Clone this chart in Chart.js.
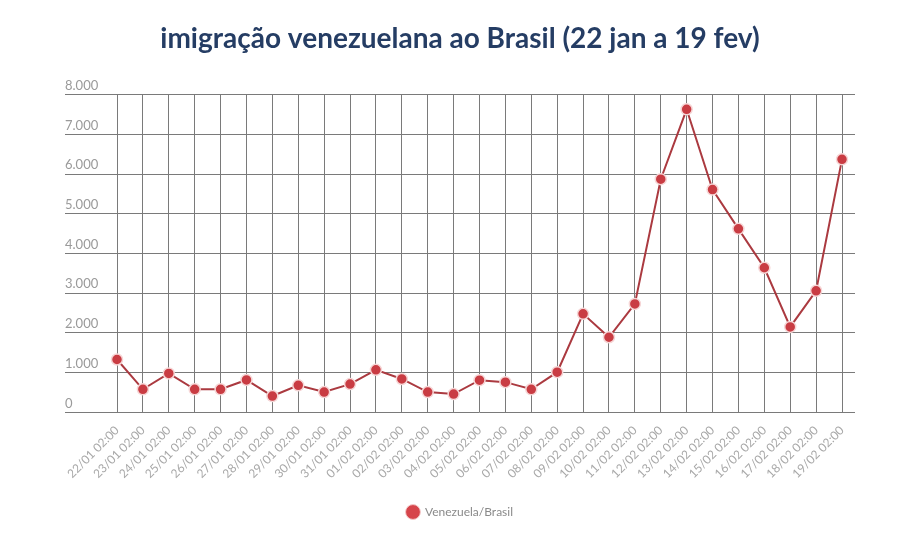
<!DOCTYPE html>
<html>
<head>
<meta charset="utf-8">
<script src="https://cdn.jsdelivr.net/npm/chart.js@4.4.1/dist/chart.umd.min.js"></script>
<style>
  html, body { margin: 0; padding: 0; background: #ffffff; }
  #wrap { width: 908px; height: 539px; position: relative; }
</style>
</head>
<body>
<div id="wrap"><canvas id="c" width="908" height="539"></canvas></div>
<script>
const chartTitle = 'imigração venezuelana ao Brasil (22 jan a 19 fev)';
const seriesName = 'Venezuela/Brasil';
const categories = [
  '22/01 02:00', '23/01 02:00', '24/01 02:00', '25/01 02:00', '26/01 02:00',
  '27/01 02:00', '28/01 02:00', '29/01 02:00', '30/01 02:00', '31/01 02:00',
  '01/02 02:00', '02/02 02:00', '03/02 02:00', '04/02 02:00', '05/02 02:00',
  '06/02 02:00', '07/02 02:00', '08/02 02:00', '09/02 02:00', '10/02 02:00',
  '11/02 02:00', '12/02 02:00', '13/02 02:00', '14/02 02:00', '15/02 02:00',
  '16/02 02:00', '17/02 02:00', '18/02 02:00', '19/02 02:00'
];
const values = [
  1330, 580, 980, 580, 580, 815, 410, 680, 510, 710,
  1070, 840, 510, 460, 810, 760, 580, 1010, 2480, 1890,
  2730, 5870, 7630, 5610, 4620, 3640, 2150, 3060, 6370
];
const yTicks = [0, 1000, 2000, 3000, 4000, 5000, 6000, 7000, 8000];

const fmt = v => v === 0 ? '0' : v.toLocaleString('pt-BR');
const gridColor = '#7a7a7a';

new Chart(document.getElementById('c'), {
  type: 'line',
  data: {
    labels: categories,
    datasets: [{
      label: seriesName,
      data: values,
      borderColor: '#ab3a40',
      backgroundColor: '#d2434a',
      borderWidth: 2,
      pointRadius: 5.5,
      pointHoverRadius: 5.5,
      pointBackgroundColor: '#c93c43',
      pointBorderColor: '#f6d6d6',
      pointBorderWidth: 1.5,
      tension: 0,
      fill: false
    }]
  },
  options: {
    responsive: false,
    animation: false,
    layout: { padding: { left: 65, right: 53, top: 0, bottom: 11 } },
    plugins: {
      title: {
        display: true,
        text: chartTitle,
        color: '#253d64',
        font: { family: 'Lato', size: 28, weight: 'bold' },
        padding: { top: 22, bottom: 39 }
      },
      legend: {
        position: 'bottom',
        labels: {
          usePointStyle: true,
          pointStyle: 'circle',
          boxHeight: 10.5,
          color: '#8a8a8a',
          font: { family: 'Lato', size: 12 },
          padding: 10,
          generateLabels(chart) {
            const items = Chart.defaults.plugins.legend.labels.generateLabels(chart);
            items.forEach(it => { it.fillStyle = '#d6454b'; it.strokeStyle = '#f3c9c9'; it.lineWidth = 1; });
            return items;
          }
        }
      },
      tooltip: { enabled: false }
    },
    scales: {
      x: {
        offset: false,
        border: { display: false },
        afterFit(scale) { scale.height += 4; },
        grid: { color: gridColor, lineWidth: 1, drawTicks: false },
        ticks: {
          color: '#a8a8a8',
          font: { family: 'Lato', size: 12 },
          minRotation: 45,
          maxRotation: 45,
          autoSkip: false,
          padding: 11
        }
      },
      y: {
        min: 0,
        max: 8000,
        border: { display: false },
        afterFit(scale) { scale.width = 52; },
        afterBuildTicks(scale) { scale.ticks = yTicks.map(v => ({ value: v })); },
        grid: { color: gridColor, lineWidth: 1, tickLength: 52 },
        ticks: {
          color: '#9a9a9a',
          font: { family: 'Lato', size: 13 },
          crossAlign: 'far',
          labelOffset: -9,
          padding: 0,
          callback: v => fmt(v)
        }
      },
      y2: {
        position: 'right',
        min: 0,
        max: 8000,
        border: { display: false },
        afterFit(scale) { scale.width = 13; },
        afterBuildTicks(scale) { scale.ticks = yTicks.map(v => ({ value: v })); },
        grid: { color: gridColor, lineWidth: 1, tickLength: 13, drawOnChartArea: false },
        ticks: { display: false }
      }
    }
  }
});
</script>
</body>
</html>
